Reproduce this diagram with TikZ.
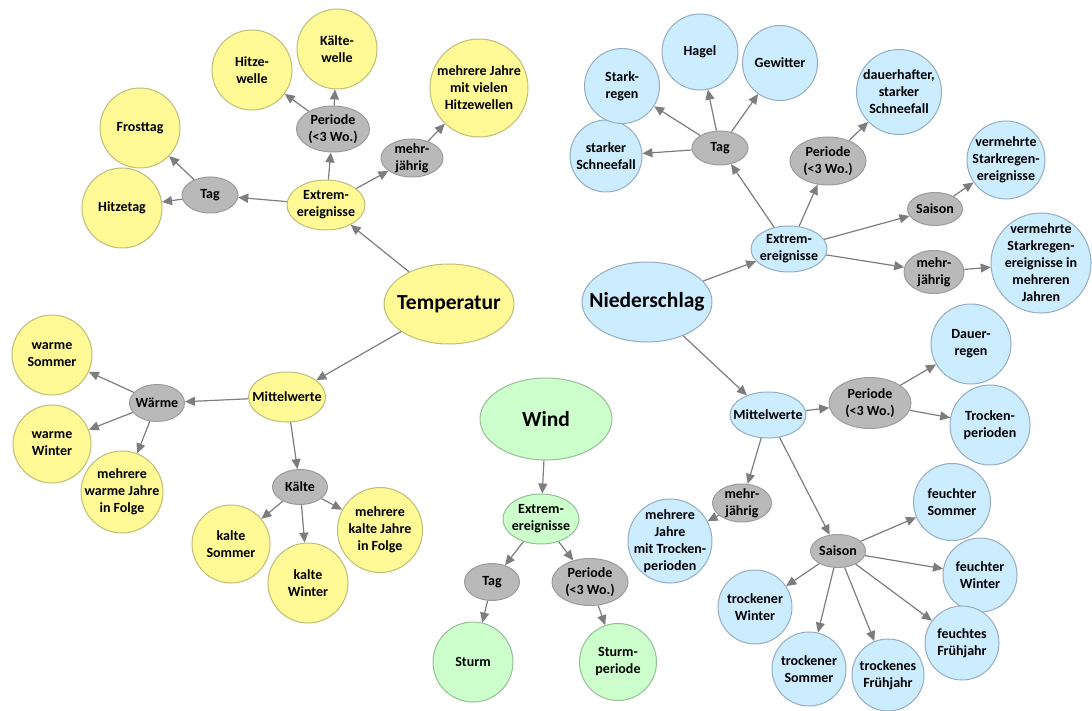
\documentclass[tikz,border=0pt]{standalone}
\usepackage{fontspec}
\setmainfont{Carlito}
\usepackage{xcolor}
\usepackage{tikz}
\usetikzlibrary{
arrows.meta,
shapes.geometric
}

\definecolor{yelfill}{RGB}{255,250,150}
\definecolor{yelline}{RGB}{190,188,120}
\definecolor{bluefill}{RGB}{204,236,255}
\definecolor{blueline}{RGB}{150,172,192}
\definecolor{greenfill}{RGB}{204,255,204}
\definecolor{greenline}{RGB}{150,190,150}
\definecolor{grayfill}{RGB}{185,185,185}
\definecolor{grayline}{RGB}{155,155,155}
\definecolor{arrgray}{RGB}{125,125,125}

\begin{document}
\begin{tikzpicture}[
x=1pt, y=-1pt,
>={Triangle[length=10pt,width=9pt]},
bubble/.style={
ellipse,
draw,
line width=1pt,
inner sep=-20pt,
align=center,
font=\bfseries\fontsize{14}{17}\selectfont
},
big/.style={font=\bfseries\fontsize{21.5}{25}\selectfont},
dia/.style={minimum size=#1pt},
ell/.style 2 args={minimum width=#1pt, minimum height=#2pt},
temp/.style={bubble, draw=yelline, fill=yelfill},
prec/.style={bubble, draw=blueline, fill=bluefill},
wind/.style={bubble, draw=greenline, fill=greenfill},
mid/.style={bubble, draw=grayline, fill=grayfill},
arr/.style={draw=arrgray, line width=1.2pt, ->}
]

\useasboundingbox (0,0) rectangle (1092,711);

% Temperatur
\node[temp, big, ell={130}{80}] (T) at (449,304) {Temperatur};
\node[temp, ell={78}{50}] (tE) at (326,205) {Extrem-\\ereignisse};
\node[mid, ell={56}{36}] (tTag) at (210,195) {Tag};
\node[temp, dia=80] (tFrost) at (140,128) {Frosttag};
\node[temp, dia=80] (tHitze) at (122,208) {Hitzetag};
\node[mid, ell={73}{46}] (tPer) at (333,129) {Periode\\(<3 Wo.)};
\node[temp, dia=80] (tHw) at (252,70) {Hitze-\\welle};
\node[temp, dia=80] (tKw) at (337,49) {Kälte-\\welle};
\node[mid, ell={62}{38}] (tMj) at (412,158) {mehr-\\jährig};
\node[temp, dia=98] (tMjH) at (479,88) {mehrere Jahre\\mit vielen\\Hitzewellen};
\node[temp, ell={77}{50}] (tM) at (287,397) {Mittelwerte};
\node[mid, ell={55}{37}] (tW) at (157,403) {Wärme};
\node[temp, dia=80] (tWS) at (52,355) {warme\\Sommer};
\node[temp, dia=78] (tWW) at (52,444) {warme\\Winter};
\node[temp, dia=82] (tWJ) at (122,492) {mehrere\\warme Jahre\\in Folge};
\node[mid, ell={55}{35}] (tK) at (300,487) {Kälte};
\node[temp, dia=78] (tKS) at (231,544) {kalte\\Sommer};
\node[temp, dia=80] (tKW) at (308,583) {kalte\\Winter};
\node[temp, dia=85] (tKJ) at (380,530) {mehrere\\kalte Jahre\\in Folge};

% Wind
\node[wind, big, ell={132}{82}] (W) at (546,419) {Wind};
\node[wind, ell={76}{50}] (wE) at (541,519) {Extrem-\\ereignisse};
\node[mid, ell={55}{37}] (wTag) at (492,582) {Tag};
\node[mid, ell={76}{47}] (wPer) at (590,582) {Periode\\(<3 Wo.)};
\node[wind, dia=80] (wSt) at (473,662) {Sturm};
\node[wind, dia=77] (wSp) at (618,662) {Sturm-\\periode};

% Niederschlag
\node[prec, big, ell={130}{80}] (N) at (647,302) {Niederschlag};
\node[prec, ell={76}{46}] (nE) at (789,249) {Extrem-\\ereignisse};
\node[mid, ell={56}{34}] (nTag) at (720,148) {Tag};
\node[prec, dia=72] (nSS) at (606,156) {starker\\Schneefall};
\node[prec, dia=75] (nSR) at (622,86) {Stark-\\regen};
\node[prec, dia=76] (nHa) at (700,52) {Hagel};
\node[prec, dia=75] (nGe) at (780,63) {Gewitter};
\node[mid, ell={76}{48}] (nPer) at (828,161) {Periode\\(<3 Wo.)};
\node[prec, dia=85] (nDS) at (899,92) {dauerhafter,\\starker\\Schneefall};
\node[mid, ell={55}{33}] (nSa) at (935,209) {Saison};
\node[prec, dia=78] (nVS) at (1006,160) {vermehrte\\Starkregen-\\ereignisse};
\node[mid, ell={60}{43}] (nMj) at (934,272) {mehr-\\jährig};
\node[prec, dia=100] (nVJ) at (1041,263) {vermehrte\\Starkregen-\\ereignisse in\\mehreren\\Jahren};
\node[prec, ell={76}{46}] (nM) at (768,415) {Mittelwerte};
\node[mid, ell={82}{51}] (nPer2) at (870,403) {Periode\\(<3 Wo.)};
\node[prec, dia=80] (nDR) at (971,344) {Dauer-\\regen};
\node[prec, dia=80] (nTP) at (990,425) {Trocken-\\perioden};
\node[mid, ell={59}{38}] (nMj2) at (742,503) {mehr-\\jährig};
\node[prec, dia=84] (nMJT) at (670,541) {mehrere\\Jahre\\mit Trocken-\\perioden};
\node[mid, ell={55}{33}] (nSa2) at (838,551) {Saison};
\node[prec, dia=77] (nFS) at (952,502) {feuchter\\Sommer};
\node[prec, dia=74] (nFW) at (980,575) {feuchter\\Winter};
\node[prec, dia=74] (nFF) at (962,643) {feuchtes\\Frühjahr};
\node[prec, dia=74] (nTW) at (755,607) {trockener\\Winter};
\node[prec, dia=74] (nTS) at (809,669) {trockener\\Sommer};
\node[prec, dia=72] (nTF) at (888,675) {trockenes\\Frühjahr};

% connectors
\foreach \a/\b in {T/tE, tE/tTag, tTag/tFrost, tTag/tHitze, tE/tPer, tPer/tHw,
tPer/tKw, tE/tMj, tMj/tMjH, T/tM, tM/tW, tW/tWS, tW/tWW, tW/tWJ, tM/tK,
tK/tKS, tK/tKW, tK/tKJ,
W/wE, wE/wTag, wE/wPer, wTag/wSt, wPer/wSp,
N/nE, nE/nTag, nTag/nSS, nTag/nSR, nTag/nHa, nTag/nGe, nE/nPer, nPer/nDS,
nE/nSa, nSa/nVS, nE/nMj, nMj/nVJ, N/nM, nM/nPer2, nPer2/nDR, nPer2/nTP,
nM/nMj2, nMj2/nMJT, nM/nSa2, nSa2/nFS, nSa2/nFW, nSa2/nFF, nSa2/nTW,
nSa2/nTS, nSa2/nTF}
\draw[arr] (\a) -- (\b);

\end{tikzpicture}
\end{document}
